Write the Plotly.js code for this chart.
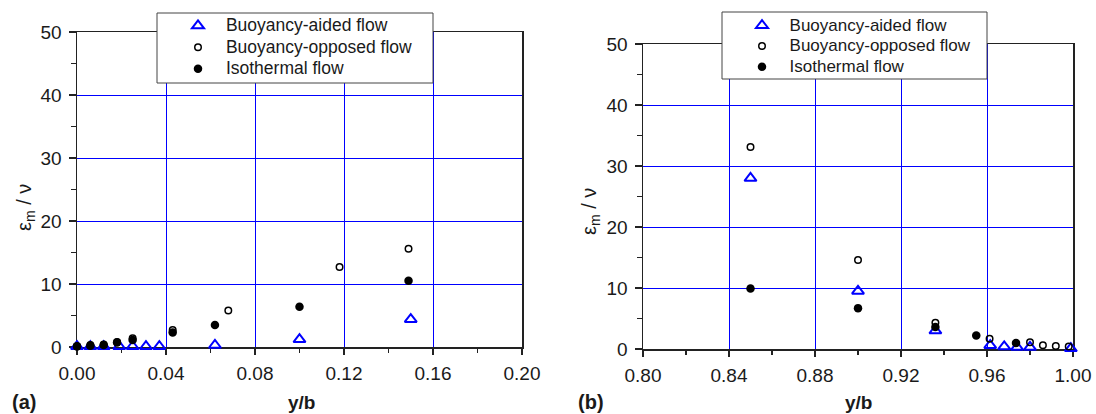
<!DOCTYPE html>
<html>
<head>
<meta charset="utf-8">
<script src="https://cdn.plot.ly/plotly-3.0.1.min.js"></script>
<style>html,body{margin:0;padding:0;background:#fff;}#chart{width:1096px;height:414px;}</style>
</head>
<body>
<div id="chart"></div>
<script>
// ---- Panel (a) data ----
var aidedX_a = [0.000, 0.006, 0.012, 0.019, 0.025, 0.031, 0.037, 0.062, 0.100, 0.150];
var aidedY_a = [0.1, 0.1, 0.1, 0.1, 0.1, 0.1, 0.1, 0.3, 1.2, 4.4];
var opposedX_a = [0.000, 0.006, 0.012, 0.018, 0.025, 0.043, 0.068, 0.118, 0.149];
var opposedY_a = [0.1, 0.3, 0.4, 0.8, 1.4, 2.7, 5.8, 12.7, 15.6];
var isoX_a = [0.000, 0.006, 0.012, 0.018, 0.025, 0.043, 0.062, 0.100, 0.149];
var isoY_a = [0.1, 0.2, 0.3, 0.7, 1.1, 2.3, 3.5, 6.4, 10.5];

// ---- Panel (b) data ----
var aidedX_b = [0.850, 0.900, 0.936, 0.9615, 0.968, 0.974, 0.980, 0.999];
var aidedY_b = [28.0, 9.5, 3.0, 0.6, 0.4, 0.3, 0.3, 0.1];
var opposedX_b = [0.850, 0.900, 0.936, 0.9612, 0.980, 0.986, 0.992, 0.998];
var opposedY_b = [33.1, 14.6, 4.3, 1.7, 1.1, 0.6, 0.5, 0.4];
var isoX_b = [0.850, 0.900, 0.936, 0.955, 0.9735];
var isoY_b = [9.9, 6.7, 3.6, 2.2, 1.0];

var seriesNames = ['Buoyancy-aided flow', 'Buoyancy-opposed flow', 'Isothermal flow'];
var xTicks_a = [0.00, 0.04, 0.08, 0.12, 0.16, 0.20];
var xTicks_b = [0.80, 0.84, 0.88, 0.92, 0.96, 1.00];
var yTicks = [0, 10, 20, 30, 40, 50];

var W = 1096, H = 414;
var FONT = 'Liberation Sans, Arial, sans-serif';
var aidedMarker = {symbol: 'triangle-up-open', size: 10.5, color: '#0000ff', line: {color: '#0000ff', width: 2}};
var opposedMarker = {symbol: 'circle-open', size: 6.5, color: '#000', line: {color: '#000', width: 1.5}};
var isoMarker = {symbol: 'circle', size: 8.5, color: '#000', line: {width: 0}};

function legendName(n, fs) {
  return '\u00a0\u00a0<span style="font-size:' + fs + 'px">' + n + '</span>';
}

function tr(x, y, name, marker, xa, ya, legend) {
  return {type: 'scatter', mode: 'markers', x: x, y: y, name: name, marker: marker,
          xaxis: xa, yaxis: ya, legend: legend, cliponaxis: false, hoverinfo: 'x+y'};
}

var data = [
  tr(aidedX_a, aidedY_a, legendName(seriesNames[0], 17.5), aidedMarker, 'x', 'y', 'legend'),
  tr(opposedX_a, opposedY_a, legendName(seriesNames[1], 17.5), opposedMarker, 'x', 'y', 'legend'),
  tr(isoX_a, isoY_a, legendName(seriesNames[2], 17.5), isoMarker, 'x', 'y', 'legend'),
  tr(aidedX_b, aidedY_b, legendName(seriesNames[0], 17), aidedMarker, 'x2', 'y2', 'legend2'),
  tr(opposedX_b, opposedY_b, legendName(seriesNames[1], 17), opposedMarker, 'x2', 'y2', 'legend2'),
  tr(isoX_b, isoY_b, legendName(seriesNames[2], 17), isoMarker, 'x2', 'y2', 'legend2')
];

function xAxis(domain, ticks, anchor) {
  return {
    domain: domain, anchor: anchor, range: [ticks[0], ticks[ticks.length - 1]],
    tickmode: 'array', tickvals: ticks, ticktext: ticks.map(function (v) { return v.toFixed(2); }),
    ticks: 'outside', ticklen: 6, tickwidth: 1.2, tickcolor: '#222',
    minor: {ticks: 'outside', ticklen: 4, tickwidth: 1.2, tickcolor: '#222', dtick: (ticks[1] - ticks[0]) / 2, tick0: ticks[0], showgrid: false},
    showline: true, mirror: true, linecolor: '#222', linewidth: 1.5,
    showgrid: true, gridcolor: '#0000ff', gridwidth: 1, zeroline: false,
    tickfont: {family: FONT, size: 19, color: '#1a1a1a'}, ticklabelstandoff: 3,
    layer: 'below traces', fixedrange: true
  };
}
function yAxis(domain, anchor) {
  return {
    domain: domain, anchor: anchor, range: [0, 50],
    tickmode: 'array', tickvals: yTicks,
    ticks: 'outside', ticklen: 7, tickwidth: 1.2, tickcolor: '#222',
    minor: {ticks: 'outside', ticklen: 5, tickwidth: 1.2, tickcolor: '#222', dtick: 5, tick0: 0, showgrid: false},
    showline: true, mirror: true, linecolor: '#222', linewidth: 1.5,
    showgrid: true, gridcolor: '#0000ff', gridwidth: 1, zeroline: false,
    tickfont: {family: FONT, size: 19, color: '#1a1a1a'}, ticklabelstandoff: 3,
    layer: 'below traces', fixedrange: true
  };
}

function legendStyle(xpx, ypx, fs) {
  return {x: xpx / W, y: 1 - ypx / H, xanchor: 'left', yanchor: 'top', xref: 'paper', yref: 'paper',
          bgcolor: 'rgba(0,0,0,0)', borderwidth: 0,
          font: {family: FONT, size: fs, color: '#1a1a1a'}, tracegroupgap: 0};
}

function box(x0, y0, x1, y1) {
  return {type: 'rect', xref: 'paper', yref: 'paper', x0: x0 / W, x1: x1 / W, y0: 1 - y1 / H, y1: 1 - y0 / H,
          fillcolor: '#ffffff', line: {color: '#444', width: 1}, layer: 'above'};
}

function ann(text, x, y, opts) {
  var a = {text: text, x: x / W, y: 1 - y / H, xref: 'paper', yref: 'paper', showarrow: false,
           xanchor: 'center', yanchor: 'middle', font: {family: FONT, size: 19, color: '#1a1a1a'}};
  for (var k in opts) a[k] = opts[k];
  return a;
}

var layout = {
  width: W, height: H,
  margin: {l: 0, r: 0, t: 0, b: 0},
  paper_bgcolor: '#fff', plot_bgcolor: '#fff',
  showlegend: true,
  xaxis: xAxis([77 / W, 522 / W], xTicks_a, 'y'),
  yaxis: yAxis([1 - 347 / H, 1 - 32 / H], 'x'),
  xaxis2: xAxis([643 / W, 1073 / W], xTicks_b, 'y2'),
  yaxis2: yAxis([1 - 349 / H, 1 - 44 / H], 'x2'),
  legend: legendStyle(178, 10, 14.2),
  legend2: legendStyle(742, 10, 13.6),
  shapes: [box(157, 13, 433, 83), box(722, 12, 987, 79)],
  annotations: [
    ann('<b>y/b</b>', 301, 402),
    ann('<b>y/b</b>', 858, 402),
    ann('<b>(a)</b>', 10, 402, {xanchor: 'left', font: {family: FONT, size: 20, color: '#1a1a1a'}}),
    ann('<b>(b)</b>', 576, 402, {xanchor: 'left', font: {family: FONT, size: 20, color: '#1a1a1a'}}),
    ann('ε<sub>m</sub> / ν', 25, 208, {textangle: -90, font: {family: FONT, size: 20, color: '#1a1a1a'}}),
    ann('ε<sub>m</sub> / ν', 590, 212, {textangle: -90, font: {family: FONT, size: 20, color: '#1a1a1a'}})
  ]
};

Plotly.newPlot('chart', data, layout, {displayModeBar: false, staticPlot: true});
</script>
</body>
</html>
